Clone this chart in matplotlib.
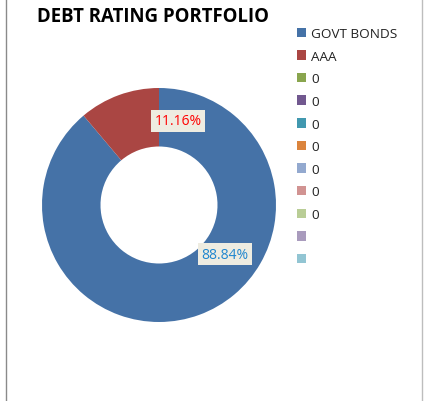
import matplotlib
matplotlib.use("Agg")
import matplotlib.pyplot as plt
from matplotlib.patches import Patch
from matplotlib.lines import Line2D

title = "DEBT RATING PORTFOLIO"
categories = ["GOVT BONDS", "AAA", "0", "0", "0", "0", "0", "0", "0", "", ""]
values = [88.84, 11.16, 0, 0, 0, 0, 0, 0, 0, 0, 0]
colors = ["#4572A7", "#AA4643", "#89A54E", "#71588F", "#4198AF", "#DB843D",
          "#93A9CF", "#D19392", "#B9CD96", "#A99BBD", "#92C5D3"]
label_text_colors = ["#1F86CF", "#FF0000"]

plt.rcParams['font.family'] = ['Open Sans', 'DejaVu Sans']

W, H = 425, 402
fig = plt.figure(figsize=(W / 100, H / 100), dpi=100)

# donut axes: center (159,206), radius 117 px
cx, cy, R = 159, 206, 117
ax = fig.add_axes([(cx - R) / W, (H - cy - R) / H, 2 * R / W, 2 * R / H])
ax.axis('off')

wedges, _ = ax.pie(values, colors=colors, startangle=90, counterclock=False,
                   radius=1, wedgeprops=dict(width=0.5, linewidth=0))
ax.set_xlim(-1, 1)
ax.set_ylim(-1, 1)
ax.set_aspect('equal')

# data labels (positions estimated from reference)
label_pos = [(0.565, -0.42), (0.162, 0.718)]
for i, (x, y) in enumerate(label_pos):
    ax.text(x, y, f"{values[i]:.2f}%", ha='center', va='center', fontsize=10,
            color=label_text_colors[i],
            bbox=dict(boxstyle='square,pad=0.25', fc='#EEECE1', ec='none'))

fig.text(37 / W, 1 - 17 / H, title, ha='left', va='center', fontsize=13.4,
         fontweight='bold', color='black')

handles = [Patch(facecolor=c, edgecolor='none') for c in colors]
leg = fig.legend(handles, categories, loc='upper left',
                 bbox_to_anchor=(297 / W, 1 - 28 / H), frameon=False,
                 fontsize=9.7, handlelength=0.7, handleheight=0.7,
                 handletextpad=0.35, labelspacing=0.715, borderpad=0,
                 borderaxespad=0)
for t in leg.get_texts():
    t.set_color('#222222')

fig.add_artist(Line2D([5.5 / W, 5.5 / W], [0, 1], transform=fig.transFigure,
                      color='#8a8a8a', lw=1))
fig.add_artist(Line2D([422 / W, 422 / W], [0, 1], transform=fig.transFigure,
                      color='#bdbdbd', lw=1))

fig.savefig("out.png", dpi=100, facecolor='white')
